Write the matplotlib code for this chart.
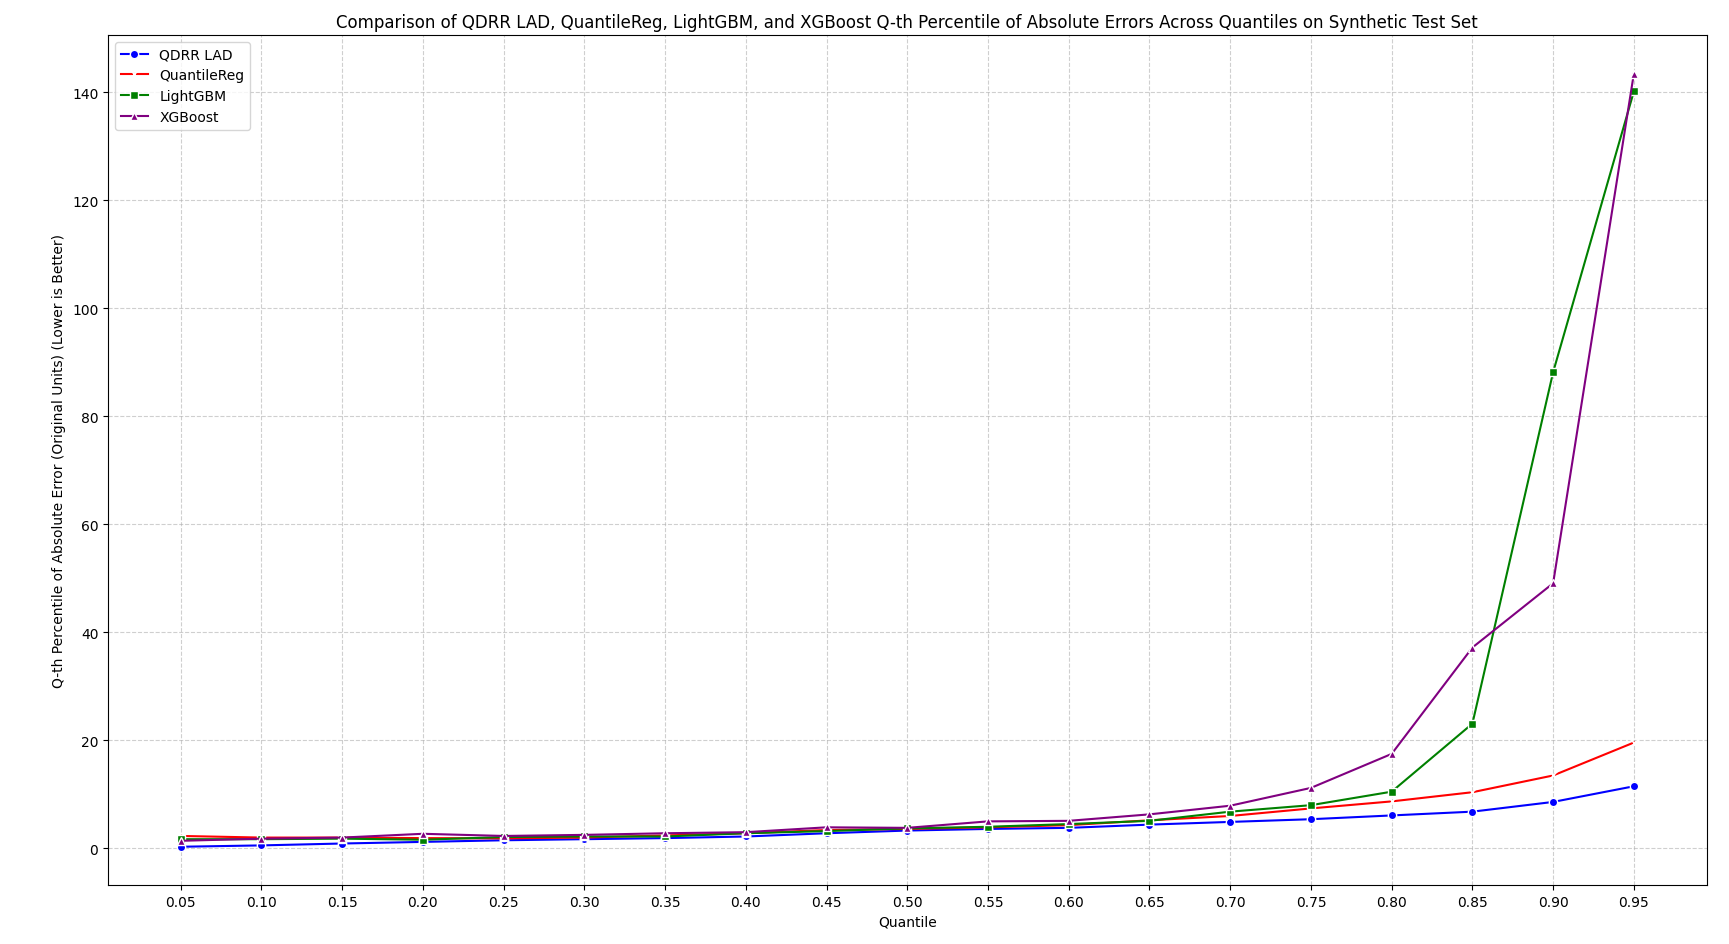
"""
Quantile error comparison chart for QDRR LAD vs. baseline models.
"""

import matplotlib
matplotlib.use("Agg")
import matplotlib.pyplot as plt

quantiles = [0.05, 0.10, 0.15, 0.20, 0.25, 0.30, 0.35, 0.40, 0.45, 0.50,
             0.55, 0.60, 0.65, 0.70, 0.75, 0.80, 0.85, 0.90, 0.95]

qdrr_lad = [0.3, 0.55, 0.9, 1.2, 1.5, 1.7, 1.9, 2.2, 2.8, 3.3,
            3.6, 3.8, 4.4, 4.9, 5.4, 6.1, 6.8, 8.6, 11.5]
quantile_reg = [2.3, 2.0, 2.0, 1.9, 1.85, 2.0, 2.4, 2.8, 3.4, 3.6,
                3.9, 4.3, 5.2, 6.0, 7.4, 8.7, 10.4, 13.5, 19.6]
lightgbm = [1.7, 1.7, 1.8, 1.6, 2.1, 2.2, 2.2, 2.8, 3.2, 3.7,
            4.0, 4.5, 5.1, 6.8, 8.0, 10.5, 23.1, 88.2, 140.2]
xgboost = [1.4, 1.8, 2.0, 2.7, 2.3, 2.5, 2.8, 3.0, 3.9, 3.8,
           5.0, 5.1, 6.3, 7.9, 11.2, 17.5, 37.2, 49.1, 143.5]

series = [
    ("QDRR LAD", qdrr_lad, "blue", "o"),
    ("QuantileReg", quantile_reg, "red", "x"),
    ("LightGBM", lightgbm, "green", "s"),
    ("XGBoost", xgboost, "purple", "^"),
]

fig, ax = plt.subplots(figsize=(17.29, 9.45), dpi=100)

for label, values, color, marker in series:
    ax.plot(quantiles, values, color=color, marker=marker, label=label,
            linewidth=1.5, markersize=6, markeredgecolor="white",
            markeredgewidth=1)

ax.set_title("Comparison of QDRR LAD, QuantileReg, LightGBM, and XGBoost "
             "Q-th Percentile of Absolute Errors Across Quantiles on Synthetic Test Set",
             fontsize=12)
ax.set_xlabel("Quantile")
ax.set_ylabel("Q-th Percentile of Absolute Error (Original Units) (Lower is Better)")
ax.set_xticks(quantiles)
ax.set_xticklabels([f"{q:.2f}" for q in quantiles])
ax.grid(True, linestyle="--", alpha=0.6)
ax.legend(loc="upper left")

fig.subplots_adjust(left=0.0625, right=0.987, top=0.962, bottom=0.062)
fig.savefig("out.png", dpi=100)
